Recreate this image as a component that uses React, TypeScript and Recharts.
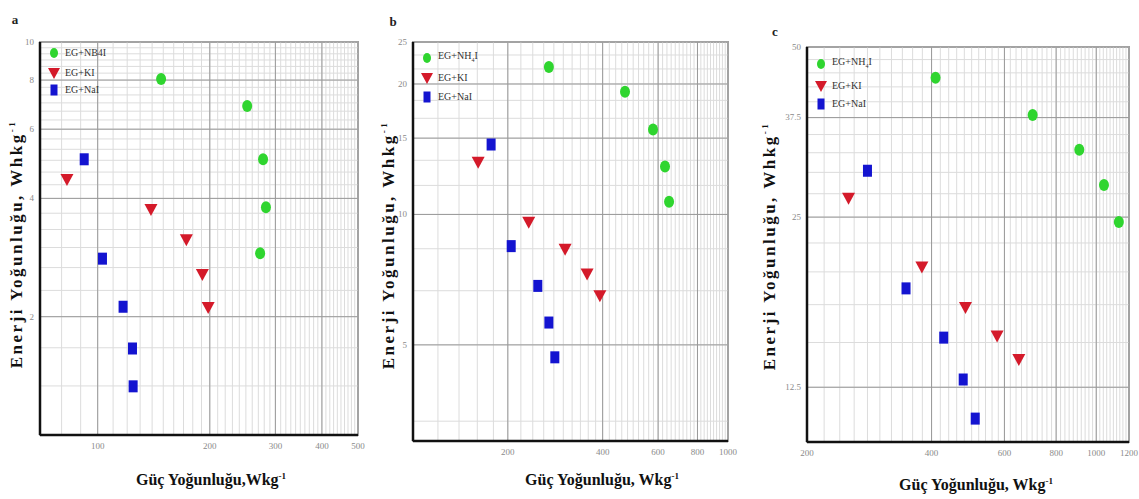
import React from "react";
import {
  ScatterChart,
  Scatter,
  XAxis,
  YAxis,
  ReferenceLine,
  ReferenceArea,
} from "recharts";

// panel a
const aNh4iX = [148, 252, 278, 283, 273];
const aNh4iY = [8.05, 6.87, 5.03, 3.8, 2.9];
const aKiX = [82.7, 139, 173, 191, 198];
const aKiY = [4.47, 3.75, 3.14, 2.56, 2.11];
const aNaiX = [92, 103, 117, 124, 124.5];
const aNaiY = [5.03, 2.81, 2.12, 1.66, 1.33];
const aXTicks = [100, 200, 300, 400, 500];
const aYTicks = [2, 4, 6, 8, 10];

// panel b
const bNh4iX = [270, 471, 578, 631, 650];
const bNh4iY = [21.9, 19.2, 15.7, 12.9, 10.7];
const bKiX = [161, 233, 304, 357, 392];
const bKiY = [13.2, 9.59, 8.31, 7.29, 6.49];
const bNaiX = [177, 205, 249, 270, 282];
const bNaiY = [14.5, 8.45, 6.84, 5.63, 4.68];
const bXTicks = [200, 400, 600, 800, 1000];
const bYTicks = [5, 10, 15, 20, 25];

// panel c
const cNh4iX = [409, 702, 910, 1044, 1134];
const cNh4iY = [44.1, 37.9, 32.9, 28.5, 24.5];
const cKiX = [252, 379, 483, 576, 650];
const cKiY = [27.0, 20.4, 17.3, 15.4, 14.0];
const cNaiX = [280, 347, 428, 477, 510];
const cNaiY = [30.2, 18.7, 15.3, 12.9, 11.0];
const cXTicks = [200, 400, 600, 800, 1000, 1200];
const cYTicks = [12.5, 25, 37.5, 50];

const GREEN = "#2fd52f";
const RED = "#d41a2a";
const BLUE = "#1414d0";
const SERIF = "'Liberation Serif', 'DejaVu Serif', serif";
const H = 499;
const YW = 30; // y axis width
const XH = 20; // x axis height

const zip = (xs: number[], ys: number[]) => xs.map((x, i) => ({ x, y: ys[i] }));

// minor grid positions between lo and hi
const steps = (lo: number, hi: number, st: number) => {
  const out: number[] = [];
  for (let v = lo; v <= hi + 1e-9; v += st) out.push(Math.round(v * 1000) / 1000);
  return out;
};

const Circle = (p: any) => <ellipse cx={p.cx} cy={p.cy} rx={5} ry={6} fill={GREEN} />;
const Tri = (p: any) => (
  <polygon
    points={`${p.cx - 6.5},${p.cy - 5.5} ${p.cx + 6.5},${p.cy - 5.5} ${p.cx},${p.cy + 6.5}`}
    fill={RED}
  />
);
const Sq = (p: any) => <rect x={p.cx - 4.5} y={p.cy - 6} width={9} height={12} fill={BLUE} />;

const XTick = (p: any) => (
  <text
    x={p.x}
    y={p.y}
    dy="0.71em"
    textAnchor="middle"
    fontSize={9}
    fill="#8a8a8a"
    fontFamily={SERIF}
  >
    {p.payload.value}
  </text>
);
const YTick = (p: any) => (
  <text
    x={p.x}
    y={p.y}
    dy="0.32em"
    textAnchor="end"
    fontSize={9}
    fill="#8a8a8a"
    fontFamily={SERIF}
  >
    {p.payload.value}
  </text>
);

function Panel({
  left,
  width,
  margin,
  xDomain,
  yDomain,
  xTicks,
  yTicks,
  xMinor,
  yMinor,
  series,
}: any) {
  return (
    <div style={{ position: "absolute", left, top: 0 }}>
      <ScatterChart width={width} height={H} margin={margin}>
        {xMinor.map((v: number) => (
          <ReferenceLine key={"xm" + v} x={v} stroke="#dcdcdc" strokeWidth={1} />
        ))}
        {yMinor.map((v: number) => (
          <ReferenceLine key={"ym" + v} y={v} stroke="#dcdcdc" strokeWidth={1} />
        ))}
        {xTicks.map((v: number) => (
          <ReferenceLine key={"xM" + v} x={v} stroke="#999" strokeWidth={1} />
        ))}
        {yTicks.map((v: number) => (
          <ReferenceLine key={"yM" + v} y={v} stroke="#999" strokeWidth={1} />
        ))}
        <ReferenceArea
          x1={xDomain[0]}
          x2={xDomain[1]}
          y1={yDomain[0]}
          y2={yDomain[1]}
          fill="none"
          stroke="#555"
          strokeWidth={1.5}
          ifOverflow="visible"
        />
        <XAxis
          type="number"
          dataKey="x"
          scale="log"
          domain={xDomain}
          ticks={xTicks}
          interval={0}
          allowDataOverflow
          height={XH}
          tickLine={false}
          tickMargin={2}
          axisLine={{ stroke: "#111", strokeWidth: 2.5 }}
          tick={<XTick />}
        />
        <YAxis
          type="number"
          dataKey="y"
          scale="log"
          domain={yDomain}
          ticks={yTicks}
          interval={0}
          allowDataOverflow
          width={YW}
          tickLine={false}
          tickMargin={0}
          axisLine={{ stroke: "#111", strokeWidth: 2.5 }}
          tick={<YTick />}
        />
        {series.map((s: any, i: number) => (
          <Scatter key={i} data={s.data} shape={s.shape} isAnimationActive={false} />
        ))}
      </ScatterChart>
    </div>
  );
}

function LegendBox({ left, tops, first }: { left: number; tops: number[]; first: React.ReactNode }) {
  const rows = [
    { label: first, icon: <ellipse cx={6} cy={6} rx={4} ry={5} fill={GREEN} /> },
    { label: "EG+KI", icon: <polygon points="0,1 12,1 6,12" fill={RED} /> },
    { label: "EG+NaI", icon: <rect x={2.5} y={0.5} width={7} height={11} fill={BLUE} /> },
  ];
  return (
    <>
      {rows.map((r, i) => (
        <div
          key={i}
          style={{
            position: "absolute",
            left: left - 6,
            top: tops[i] - 6,
            display: "flex",
            alignItems: "center",
            gap: 5,
            fontFamily: SERIF,
            fontSize: 10,
            color: "#333",
            whiteSpace: "nowrap",
            lineHeight: "12px",
          }}
        >
          <svg width={12} height={12}>
            {r.icon}
          </svg>
          <span>{r.label}</span>
        </div>
      ))}
    </>
  );
}

function YTitle({ cx, cy }: { cx: number; cy: number }) {
  return (
    <div
      style={{
        position: "absolute",
        left: cx,
        top: cy,
        transform: "translate(-50%, -50%) rotate(-90deg)",
        fontFamily: SERIF,
        fontWeight: "bold",
        fontSize: 17,
        letterSpacing: 2.5,
        whiteSpace: "nowrap",
        color: "#111",
      }}
    >
      Enerji Yoğunluğu, Whkg<sup style={{ fontSize: 9 }}>-1</sup>
    </div>
  );
}

function XTitle({ cx, cy, text }: { cx: number; cy: number; text: string }) {
  return (
    <div
      style={{
        position: "absolute",
        left: cx,
        top: cy,
        transform: "translate(-50%, -50%)",
        fontFamily: SERIF,
        fontWeight: "bold",
        fontSize: 16,
        whiteSpace: "nowrap",
        color: "#111",
      }}
    >
      {text}
      <sup style={{ fontSize: 9 }}>-1</sup>
    </div>
  );
}

function Letter({ x, y, t }: { x: number; y: number; t: string }) {
  return (
    <div
      style={{
        position: "absolute",
        left: x,
        top: y,
        transform: "translate(-50%, -50%)",
        fontFamily: SERIF,
        fontWeight: "bold",
        fontSize: 13,
        color: "#222",
      }}
    >
      {t}
    </div>
  );
}

export default function App() {
  const nh4Sub = (
    <>
      EG+NH<sub style={{ fontSize: 6 }}>4</sub>I
    </>
  );
  return (
    <div
      style={{
        position: "absolute",
        left: 0,
        top: 0,
        width: 1139,
        height: H,
        background: "#fff",
        overflow: "hidden",
      }}
    >
      <Panel
        left={0}
        width={380}
        margin={{ top: 42, right: 22, bottom: 64 - XH, left: 40 - YW }}
        xDomain={[70, 500]}
        yDomain={[1, 10]}
        xTicks={aXTicks}
        yTicks={aYTicks}
        xMinor={steps(70, 500, 10)}
        yMinor={steps(1, 10, 1 / 3)}
        series={[
          { data: zip(aNh4iX, aNh4iY), shape: Circle },
          { data: zip(aKiX, aKiY), shape: Tri },
          { data: zip(aNaiX, aNaiY), shape: Sq },
        ]}
      />
      <Panel
        left={380}
        width={370}
        margin={{ top: 42, right: 22, bottom: 58 - XH, left: 33 - YW }}
        xDomain={[100, 1000]}
        yDomain={[3, 25]}
        xTicks={bXTicks}
        yTicks={bYTicks}
        xMinor={steps(100, 1000, 20)}
        yMinor={steps(10 / 3, 25, 5 / 3)}
        series={[
          { data: zip(bNh4iX, bNh4iY), shape: Circle },
          { data: zip(bKiX, bKiY), shape: Tri },
          { data: zip(bNaiX, bNaiY), shape: Sq },
        ]}
      />
      <Panel
        left={750}
        width={389}
        margin={{ top: 47, right: 10, bottom: 57 - XH, left: 57 - YW }}
        xDomain={[200, 1200]}
        yDomain={[10, 50]}
        xTicks={cXTicks}
        yTicks={cYTicks}
        xMinor={steps(200, 1200, 20)}
        yMinor={steps(10, 50, 2.5)}
        series={[
          { data: zip(cNh4iX, cNh4iY), shape: Circle },
          { data: zip(cKiX, cKiY), shape: Tri },
          { data: zip(cNaiX, cNaiY), shape: Sq },
        ]}
      />

      <LegendBox left={54} tops={[53, 73, 90]} first="EG+NB4I" />
      <LegendBox left={427} tops={[56, 78, 97]} first={nh4Sub} />
      <LegendBox left={821} tops={[62, 86, 104]} first={nh4Sub} />

      <YTitle cx={17} cy={244} />
      <YTitle cx={389} cy={245} />
      <YTitle cx={770} cy={246} />

      <XTitle cx={211} cy={480} text="Güç Yoğunluğu,Wkg" />
      <XTitle cx={602} cy={480} text="Güç Yoğunluğu, Wkg" />
      <XTitle cx={976} cy={485} text="Güç Yoğunluğu, Wkg" />

      <Letter x={15} y={20} t="a" />
      <Letter x={393} y={22} t="b" />
      <Letter x={775} y={32} t="c" />
    </div>
  );
}
